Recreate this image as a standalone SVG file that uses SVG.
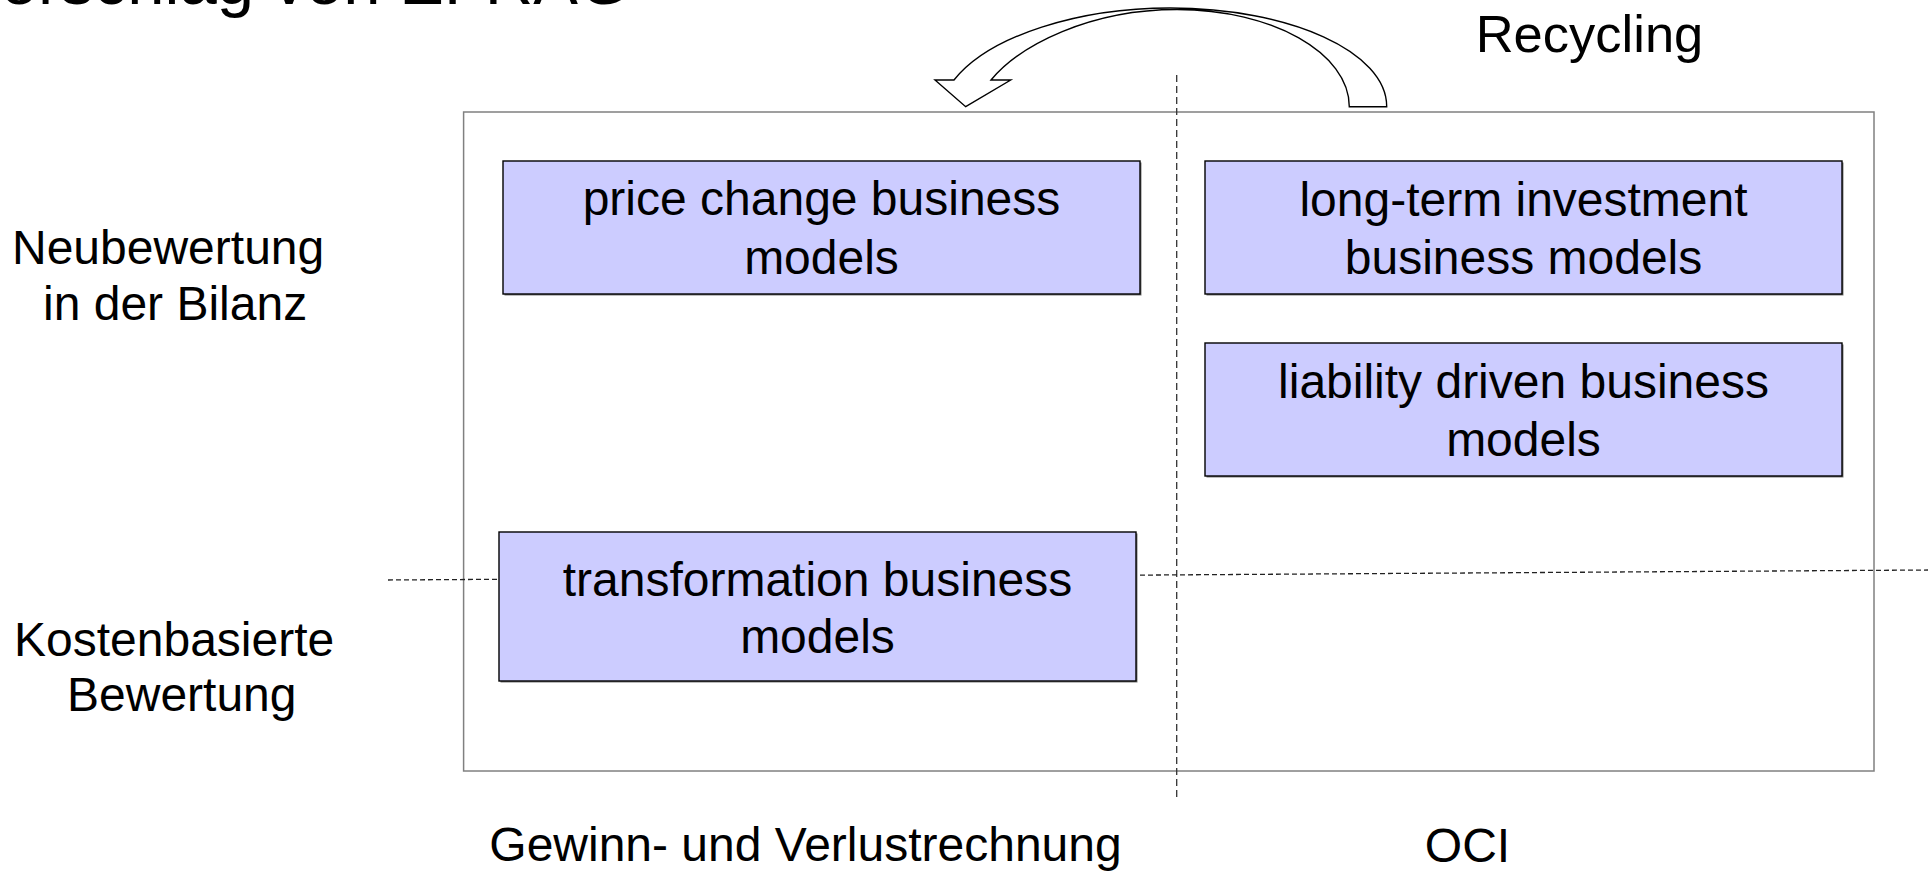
<svg xmlns="http://www.w3.org/2000/svg" width="1928" height="871" viewBox="0 0 1928 871">
  <style>
    text { font-family: "Liberation Sans", Arial, sans-serif; fill: #000; }
    .lbl { font-size: 48px; }
    .box { fill: #CCCCFF; stroke: #000; stroke-width: 1.4; }
    .shadow { fill: #7a7a7a; }
    .frame { fill: none; stroke: #808080; stroke-width: 1.5; }
    .vdash { fill: none; stroke: #333; stroke-width: 1.3; stroke-dasharray: 7 4; }
    .hdash { fill: none; stroke: #222; stroke-width: 1.3; stroke-dasharray: 5 3; }
    .curve { fill: #fff; stroke: #000; stroke-width: 1.4; stroke-linejoin: miter; }
  </style>

  <rect width="1928" height="871" fill="#fff"/>

  <!-- title, partly cut off at the top edge -->
  <text id="title" x="630" y="4" font-size="67" text-anchor="end">Vorschlag von EFRAG</text>

  <!-- outer frame -->
  <rect id="frame" class="frame" x="463.6" y="112" width="1410.4" height="659"/>

  <!-- connectors: axis separators and recycling arrow -->
  <g id="connectors">
    <line class="vdash" x1="1176.7" y1="75" x2="1176.7" y2="799"/>
    <line class="hdash" x1="388" y1="580" x2="1928" y2="570"/>
    <path class="curve" d="M1386.7,106.7 C1387,52 1290,8 1170,8 C1080,8 990,35 954,80 L935,80 L965.7,106.7 L1010.7,80 L991,80 C1020,45 1090,9.5 1177,9.5 C1272,9.5 1349.3,53 1349.3,106.7 Z"/>
  </g>

  <g id="node-price-change">
    <rect class="shadow" x="504.5" y="162.5" width="637" height="133"/>
    <rect class="box" x="503" y="161" width="637" height="133"/>
    <text class="lbl" x="821.5" y="215" text-anchor="middle">price change business</text>
    <text class="lbl" x="821.5" y="274" text-anchor="middle">models</text>
  </g>

  <g id="node-long-term">
    <rect class="shadow" x="1206.5" y="162.5" width="637" height="133"/>
    <rect class="box" x="1205" y="161" width="637" height="133"/>
    <text class="lbl" x="1523.5" y="216" text-anchor="middle">long-term investment</text>
    <text class="lbl" x="1523.5" y="274" text-anchor="middle">business models</text>
  </g>

  <g id="node-liability">
    <rect class="shadow" x="1206.5" y="344.5" width="637" height="133"/>
    <rect class="box" x="1205" y="343" width="637" height="133"/>
    <text class="lbl" x="1523.5" y="398" text-anchor="middle">liability driven business</text>
    <text class="lbl" x="1523.5" y="456" text-anchor="middle">models</text>
  </g>

  <g id="node-transformation">
    <rect class="shadow" x="500.5" y="533.5" width="637" height="149"/>
    <rect class="box" x="499" y="532" width="637" height="149"/>
    <text class="lbl" x="817.5" y="596" text-anchor="middle">transformation business</text>
    <text class="lbl" x="817.5" y="653" text-anchor="middle">models</text>
  </g>

  <!-- axis labels -->
  <g id="label-neubewertung">
    <text class="lbl" x="12" y="264">Neubewertung</text>
    <text class="lbl" x="43" y="320">in der Bilanz</text>
  </g>
  <g id="label-kostenbasiert">
    <text class="lbl" x="14" y="656">Kostenbasierte</text>
    <text class="lbl" x="67" y="711">Bewertung</text>
  </g>
  <g id="label-guv">
    <text class="lbl" x="805.5" y="861" text-anchor="middle">Gewinn- und Verlustrechnung</text>
  </g>
  <g id="label-oci">
    <text class="lbl" x="1467.5" y="862" text-anchor="middle">OCI</text>
  </g>
  <g id="label-recycling">
    <text x="1589.5" y="52" font-size="52.5" text-anchor="middle">Recycling</text>
  </g>
</svg>
